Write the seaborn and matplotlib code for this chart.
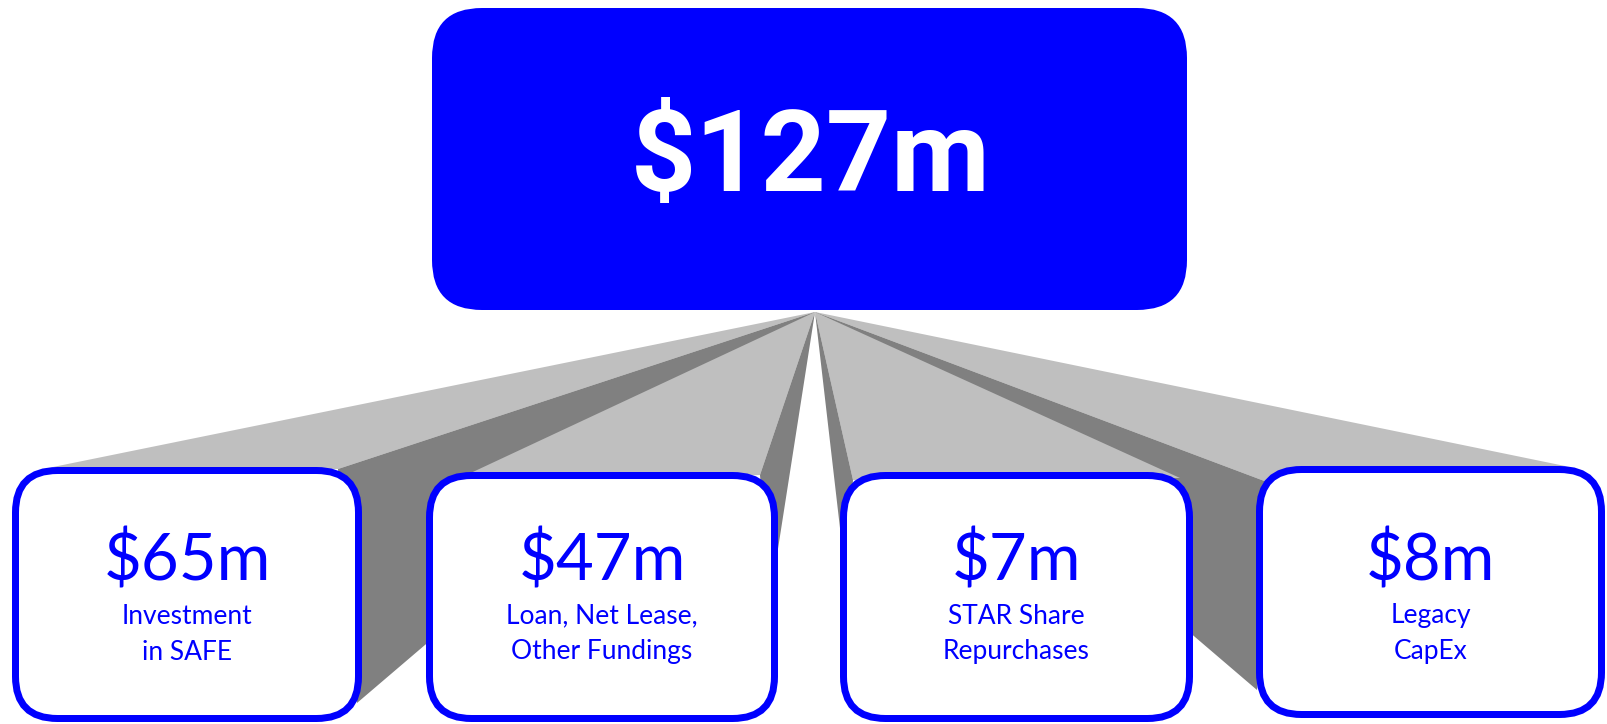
import matplotlib
matplotlib.use("Agg")
import matplotlib.pyplot as plt
from matplotlib.patches import FancyBboxPatch, Polygon
import seaborn as sns

# ---- data ----
total_value = 127
values = [65, 47, 7, 8]
line1 = ["Investment", "Loan, Net Lease,", "STAR Share", "Legacy"]
line2 = ["in SAFE", "Other Fundings", "Repurchases", "CapEx"]

BLUE = "#0000FF"
LIGHT = "#BFBFBF"
DARK = "#808080"

sns.set_theme(style="white")
plt.rcParams['font.family'] = ['Lato', 'DejaVu Sans']

W, H = 1608, 724
fig = plt.figure(figsize=(W / 100, H / 100), dpi=100)
ax = fig.add_axes([0, 0, 1, 1])
ax.set_xlim(0, W)
ax.set_ylim(H, 0)
ax.axis("off")

apex = (815, 312)

# outer edges of the child boxes (x0, x1, y0, y1)
boxes = [(12, 362, 467, 722), (426, 778, 472, 722),
         (840, 1193, 472, 722), (1256, 1605, 466, 718)]
# fan faces: light top face tips and dark side face points
light_faces = [((53, 467), (338, 469)), ((445, 485), (760, 475)),
               ((853, 480), (1180, 478)), ((1267, 482), (1565, 466))]
dark_faces = [((338, 469), (357, 703)), ((760, 475), (770, 600)),
              ((853, 480), (846, 580)), ((1267, 482), (1257, 690))]
layer = [1, 2, 2, 1]

for i in range(4):
    a, b = light_faces[i]
    ax.add_patch(Polygon([apex, a, b], closed=True, facecolor=LIGHT,
                         edgecolor="none", zorder=layer[i]))
    a, b = dark_faces[i]
    ax.add_patch(Polygon([apex, a, b], closed=True, facecolor=DARK,
                         edgecolor="none", zorder=layer[i]))

# top box
ax.add_patch(FancyBboxPatch((432, 8), 1187 - 432, 310 - 8,
                            boxstyle="round,pad=0,rounding_size=50",
                            facecolor=BLUE, edgecolor="none", zorder=3))
ax.text(811, 160, f"${total_value}m", color="white", fontsize=82,
        fontweight="bold", family=['Roboto', 'DejaVu Sans'],
        ha="center", va="center", zorder=4)

lw_px = 7
for i, (x0, x1, y0, y1) in enumerate(boxes):
    h = lw_px / 2
    ax.add_patch(FancyBboxPatch((x0 + h, y0 + h), (x1 - x0) - 2 * h, (y1 - y0) - 2 * h,
                                boxstyle="round,pad=0,rounding_size=42",
                                facecolor="white", edgecolor=BLUE,
                                linewidth=lw_px * 72 / 100, zorder=5))
    cx = (x0 + x1) / 2
    ax.text(cx, 561, f"${values[i]}m", color=BLUE, fontsize=47,
            fontweight="normal", ha="center", va="center", zorder=6)
    ax.text(cx, 616, line1[i], color=BLUE, fontsize=19,
            fontweight="normal", ha="center", va="center", zorder=6)
    ax.text(cx, 652, line2[i], color=BLUE, fontsize=19,
            fontweight="normal", ha="center", va="center", zorder=6)

fig.savefig("out.png", dpi=100)
